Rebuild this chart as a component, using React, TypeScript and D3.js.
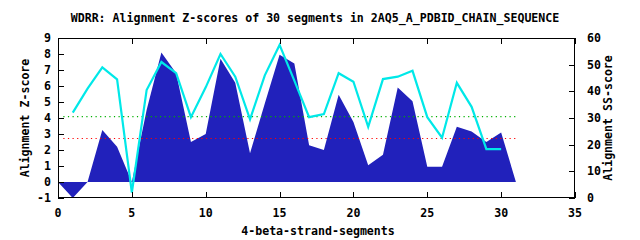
import React from "react";
import * as d3 from "d3";

const title = "WDRR: Alignment Z-scores of 30 segments in 2AQ5_A_PDBID_CHAIN_SEQUENCE";
const xLabel = "4-beta-strand-segments";
const yLabel = "Alignment Z-score";
const y2Label = "Alignment SS-score";

const zX = [0,1,2,3,4,5,6,7,8,9,10,11,12,13,14,15,16,17,18,19,20,21,22,23,24,25,26,27,28,29,30,31];
const zScores = [0,-1,0,3.25,2.2,0,4.5,8.1,6.8,2.5,3.0,7.7,6.2,1.8,4.9,7.95,7.4,2.3,2.0,5.45,3.75,1.05,1.7,5.9,5.05,0.95,0.95,3.45,3.15,2.5,3.1,0];
const ssX = [1,2,3,4,5,6,7,8,9,10,11,12,13,14,15,16,17,18,19,20,21,22,23,24,25,26,27,28,29,30];
const ssScores = [32,41,49,44.5,2,40.5,51,46.8,30.3,41.5,54,45.5,29.5,46,57.4,44,30.3,31.5,46.8,43.6,26.7,44.6,45.5,47.7,30.3,22.6,43.2,34.2,18.3,18.3];
const greenLevel = 4.08;
const redLevel = 2.72;
const xTicks = [0,5,10,15,20,25,30,35];
const yTicks = [-1,0,1,2,3,4,5,6,7,8,9];
const y2Ticks = [0,10,20,30,40,50,60];

const W = 640, H = 240;
const L = 58, R = 575, T = 38, B = 198;
const font = "'DejaVu Sans Mono', monospace";

export default function App() {
  const x = d3.scaleLinear().domain([0, 35]).range([L, R]);
  const y = d3.scaleLinear().domain([-1, 9]).range([B, T]);
  const y2 = d3.scaleLinear().domain([0, 60]).range([B, T]);

  const zData = zX.map((v, i) => [v, zScores[i]] as [number, number]);
  const ssData = ssX.map((v, i) => [v, ssScores[i]] as [number, number]);

  const area = d3.area<[number, number]>().x(d => x(d[0])).y0(y(0)).y1(d => y(d[1]));
  const line = d3.line<[number, number]>().x(d => x(d[0])).y(d => y2(d[1]));

  const dotStart = x(0.36), dotEnd = x(31);

  return (
    <svg width={W} height={H} style={{ position: "absolute", left: 0, top: 0, background: "#fff" }}>
      <rect x={0} y={0} width={W} height={H} fill="#fff" />
      <text x={315} y={22} textAnchor="middle" fontFamily={font} fontWeight="bold" fontSize={11.6}>{title}</text>
      <path d={area(zData) || ""} fill="#2121bb" />
      <line x1={dotStart} x2={dotEnd} y1={y(greenLevel)} y2={y(greenLevel)} stroke="#00b000" strokeWidth={1.2} strokeDasharray="1.2 3.4" />
      <line x1={dotStart} x2={dotEnd} y1={y(redLevel)} y2={y(redLevel)} stroke="#ff0000" strokeWidth={1.2} strokeDasharray="1.2 3.4" />
      <path d={line(ssData) || ""} fill="none" stroke="#00e8e8" strokeWidth={2.2} strokeLinejoin="miter" />
      <rect x={L + 0.5} y={T + 0.5} width={R - L - 1} height={B - T - 1} fill="none" stroke="#000" strokeWidth={1} />
      {yTicks.map(t => (
        <g key={"y" + t}>
          <line x1={L} x2={L + 6} y1={Math.round(y(t)) + 0.5} y2={Math.round(y(t)) + 0.5} stroke="#000" />
          <text x={51} y={y(t) + 4} textAnchor="end" fontFamily={font} fontWeight="bold" fontSize={11.6}>{t}</text>
        </g>
      ))}
      {y2Ticks.map(t => (
        <g key={"y2" + t}>
          <line x1={R - 6} x2={R} y1={Math.round(y2(t)) + 0.5} y2={Math.round(y2(t)) + 0.5} stroke="#000" />
          <text x={587} y={y2(t) + 4} textAnchor="start" fontFamily={font} fontWeight="bold" fontSize={11.6}>{t}</text>
        </g>
      ))}
      {xTicks.map(t => (
        <g key={"x" + t}>
          <line x1={Math.round(x(t)) + 0.5} x2={Math.round(x(t)) + 0.5} y1={B} y2={B - 6} stroke="#000" />
          <line x1={Math.round(x(t)) + 0.5} x2={Math.round(x(t)) + 0.5} y1={T} y2={T + 6} stroke="#000" />
          <text x={x(t)} y={217} textAnchor="middle" fontFamily={font} fontWeight="bold" fontSize={11.6}>{t}</text>
        </g>
      ))}
      <text x={318} y={235} textAnchor="middle" fontFamily={font} fontWeight="bold" fontSize={11.6}>{xLabel}</text>
      <text transform={`translate(29,${(T + B) / 2}) rotate(-90)`} textAnchor="middle" fontFamily={font} fontWeight="bold" fontSize={11.6}>{yLabel}</text>
      <text transform={`translate(612,${(T + B) / 2}) rotate(-90)`} textAnchor="middle" fontFamily={font} fontWeight="bold" fontSize={11.6}>{y2Label}</text>
    </svg>
  );
}
